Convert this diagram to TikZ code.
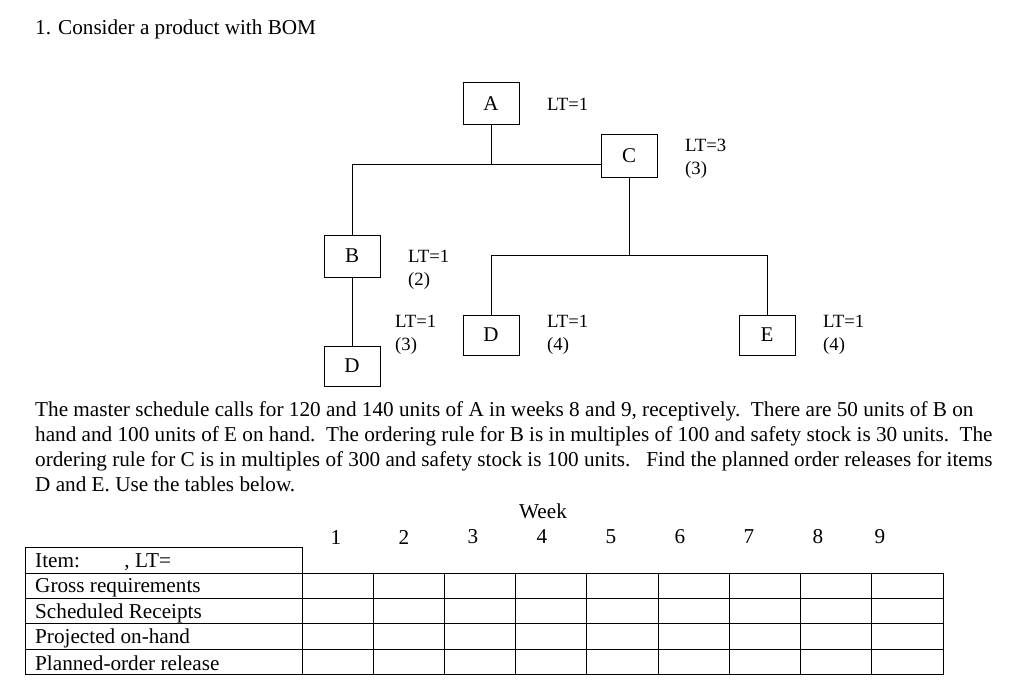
\documentclass[tikz,border=0pt]{standalone}
\usepackage{fontspec}
\setmainfont{Liberation Serif}
\begin{document}
\begin{tikzpicture}[x=1pt,y=-1pt,
  box/.style={draw,line width=1pt,minimum width=56pt,minimum height=42pt,inner sep=0pt,font=\fontsize{21}{21}\selectfont},
  lab/.style={anchor=west,align=left,inner sep=0pt,font=\fontsize{18.7}{23}\selectfont},
  txt/.style={anchor=west,inner sep=0pt,font=\fontsize{21.2}{25}\selectfont},
  ln/.style={line width=1pt}]
\useasboundingbox (0,0) rectangle (1024,687);
\node[txt] (title) at (35,29) {1. Consider a product with BOM};
\node[box] (A) at (491,104) {A};
\node[box] (C) at (629,156) {C};
\node[box] (B) at (352,256) {B};
\node[box,minimum height=40pt] (D1) at (352,366) {D};
\node[box,minimum height=40pt] (D2) at (491,335) {D};
\node[box,minimum height=40pt] (E) at (767,335) {E};
\coordinate (j1) at (491,165);
\coordinate (j2) at (629,255);
\draw[ln] (A.south) -- (j1);
\draw[ln] (B.north) |- (C.west |- j1) ;
\draw[ln] (C.south) -- (j2);
\draw[ln] (D2.north) |- (E.north |- j2) -- (E.north);
\draw[ln] (B.south) -- (D1.north);
\node[lab] (l1) at (547,104) {LT=1};
\node[lab] (l2) at (685,159) {LT=3\\(3)};
\node[lab] (l3) at (408,270) {LT=1\\(2)};
\node[lab] (l4) at (395,335) {LT=1\\(3)};
\node[lab] (l5) at (547,335) {LT=1\\(4)};
\node[lab] (l6) at (823,335) {LT=1\\(4)};
\node[txt,anchor=north west,align=left] (para) at (35,401) {The master schedule calls for 120 and 140 units of A in weeks 8 and 9, receptively.\ \ There are 50 units of B on\\hand and 100 units of E on hand.\ \ The ordering rule for B is in multiples of 100 and safety stock is 30 units.\ \ The\\ordering rule for C is in multiples of 300 and safety stock is 100 units.\ \ \ Find the planned order releases for items\\D and E. Use the tables below.};
\node[txt,anchor=center] (week) at (543,511) {Week};
\foreach \i/\x in {1/336,2/404,3/473,4/542,5/611,6/680,7/749,8/818,9/880} {
  \node[txt,anchor=center] (w\i) at (\x,537) {\i};
}
\draw[ln] (25,547) rectangle (302,674);
\foreach \y in {573,598,623,649} \draw[ln] (25,\y) -- (943,\y);
\draw[ln] (302,573) rectangle (943,674);
\foreach \i in {1,...,8} \draw[ln] ({302+71.2*\i},573) -- ({302+71.2*\i},674);
\node[txt] (r0) at (35,562) {Item:\hspace{2.1em}, LT=};
\node[txt] (r1) at (35,588) {Gross requirements};
\node[txt] (r2) at (35,613) {Scheduled Receipts};
\node[txt] (r3) at (35,638) {Projected on-hand};
\node[txt] (r4) at (35,663) {Planned-order release};
\end{tikzpicture}
\end{document}
